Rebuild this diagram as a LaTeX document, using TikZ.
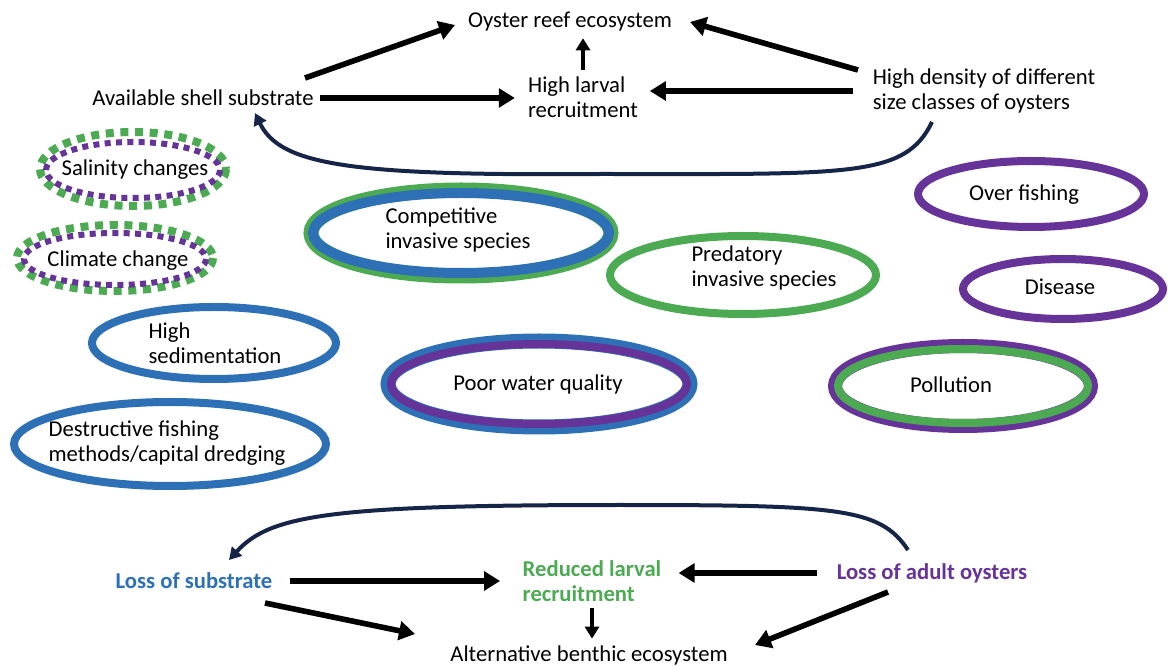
\documentclass[tikz,border=0pt]{standalone}
\usepackage{fontspec}
\setmainfont{Carlito}
\usepackage{tikz}
\usetikzlibrary{arrows.meta}
\definecolor{reefblue}{RGB}{46,112,182}
\definecolor{reefgreen}{RGB}{76,170,82}
\definecolor{reefpurple}{RGB}{102,51,153}
\definecolor{reefnavy}{RGB}{22,36,72}
\tikzset{
  lbl/.style={inner sep=0pt, outer sep=5pt, align=left, font=\fontsize{17}{19}\selectfont},
  blbl/.style={lbl, font=\fontsize{17}{19}\selectfont\bfseries},
  fat/.style={-{Triangle[length=12pt,width=14pt]}, line width=4.2pt},
  thin/.style={-{Triangle[length=9pt,width=10.5pt]}, line width=3pt},
  loopback/.style={-{Triangle[length=9pt,width=10pt]}, line width=3pt, draw=reefnavy},
  ring/.style={line width=6pt},
}
\begin{document}
\begin{tikzpicture}[x=0.75pt,y=-0.75pt]
\useasboundingbox (0,0) rectangle (1168,666);
% healthy reef
\node[lbl](reef) at (570,22) {Oyster reef ecosystem};
\node[lbl](shell) at (203,98) {Available shell substrate};
\node[lbl](larval) at (583,97) {High larval\\recruitment};
\node[lbl](dens) at (984,91) {High density of different\\size classes of oysters};
%
\draw[fat](305,78) -- (455,25);
\draw[fat](858,70) -- (690,22);
\draw[thin](larval.north) -- (larval.north |- reef.south);
\draw[fat, shorten >=5pt](shell.east) -- (shell.east -| larval.west);
\draw[fat, shorten <=10pt, shorten >=4pt](dens.west) -- (dens.west -| larval.east);
\coordinate (dtail) at (932,122);
\coordinate (shead) at (255,113);
\draw[loopback](dtail) .. controls (905,178) and (850,174) .. (600,174)
  .. controls (350,176) and (280,165) .. (shead);
% stressors
\node[lbl](salin) at (135,170) {Salinity changes};
\draw[reefgreen, line width=6pt, dash pattern=on 6pt off 5pt] (133,169) ellipse [x radius=93, y radius=37];
\draw[reefpurple, line width=4.5pt, dash pattern=on 4.5pt off 4pt] (133,170) ellipse [x radius=87, y radius=28];
\node[lbl](climate) at (118,261) {Climate change};
\draw[reefgreen, line width=6pt, dash pattern=on 6pt off 5pt] (115,258) ellipse [x radius=98, y radius=33];
\draw[reefpurple, line width=4.5pt, dash pattern=on 4.5pt off 4pt] (115,259) ellipse [x radius=91, y radius=26];
\node[lbl](compet) at (458,230) {Competitive\\invasive species};
\draw[reefgreen, line width=11.25pt] (461,233) ellipse [x radius=150, y radius=43];
\draw[reefblue, line width=7.5pt] (461,233) ellipse [x radius=148, y radius=40];
\node[lbl](pred) at (764,268) {Predatory\\invasive species};
\draw[ring, reefgreen] (743,275) ellipse [x radius=133, y radius=39];
\node[lbl](water) at (538,384) {Poor water quality};
\draw[reefblue, line width=11.25pt] (539,384) ellipse [x radius=151, y radius=43];
\draw[reefpurple, line width=6pt] (539,384) ellipse [x radius=148, y radius=40];
\node[lbl](overf) at (1024,195) {Over fishing};
\draw[ring, reefpurple] (1031,194) ellipse [x radius=113, y radius=33];
\node[lbl](disease) at (1060,287) {Disease};
\draw[ring, reefpurple] (1063,289) ellipse [x radius=100, y radius=30];
\node[lbl](pollut) at (951,385) {Pollution};
\draw[reefpurple, line width=10.5pt] (963,386) ellipse [x radius=128, y radius=40];
\draw[reefgreen, line width=6pt] (963,386) ellipse [x radius=125, y radius=37];
\node[lbl](sedim) at (215,343) {High\\sedimentation};
\draw[ring, reefblue] (214,343) ellipse [x radius=122, y radius=36];
\node[lbl](dredge) at (167,443) {Destructive fishing\\methods/capital dredging};
\draw[ring, reefblue] (170,444) ellipse [x radius=156, y radius=42];
% degraded reef
\node[blbl, text=reefblue](subst) at (194,581) {Loss of substrate};
\node[blbl, text=reefgreen](reduced) at (592,581) {Reduced larval\\recruitment};
\node[blbl, text=reefpurple](adult) at (932,573) {Loss of adult oysters};
\node[lbl](benthic) at (589,655) {Alternative benthic ecosystem};
%
\draw[fat, shorten <=8pt, shorten >=12pt](subst.east) -- (subst.east -| reduced.west);
\draw[fat, shorten <=10pt, shorten >=8pt](adult.west) -- (adult.west -| reduced.east);
\draw[fat](265,603) -- (415,634);
\draw[thin](reduced.south) -- (reduced.south |- benthic.north);
\draw[fat](888,592) -- (755,645);
\coordinate (atail) at (908,550);
\coordinate (lhead) at (229,560);
\draw[loopback](atail) .. controls (880,508) and (840,505) .. (620,505)
  .. controls (330,505) and (270,515) .. (lhead);
\end{tikzpicture}
\end{document}
